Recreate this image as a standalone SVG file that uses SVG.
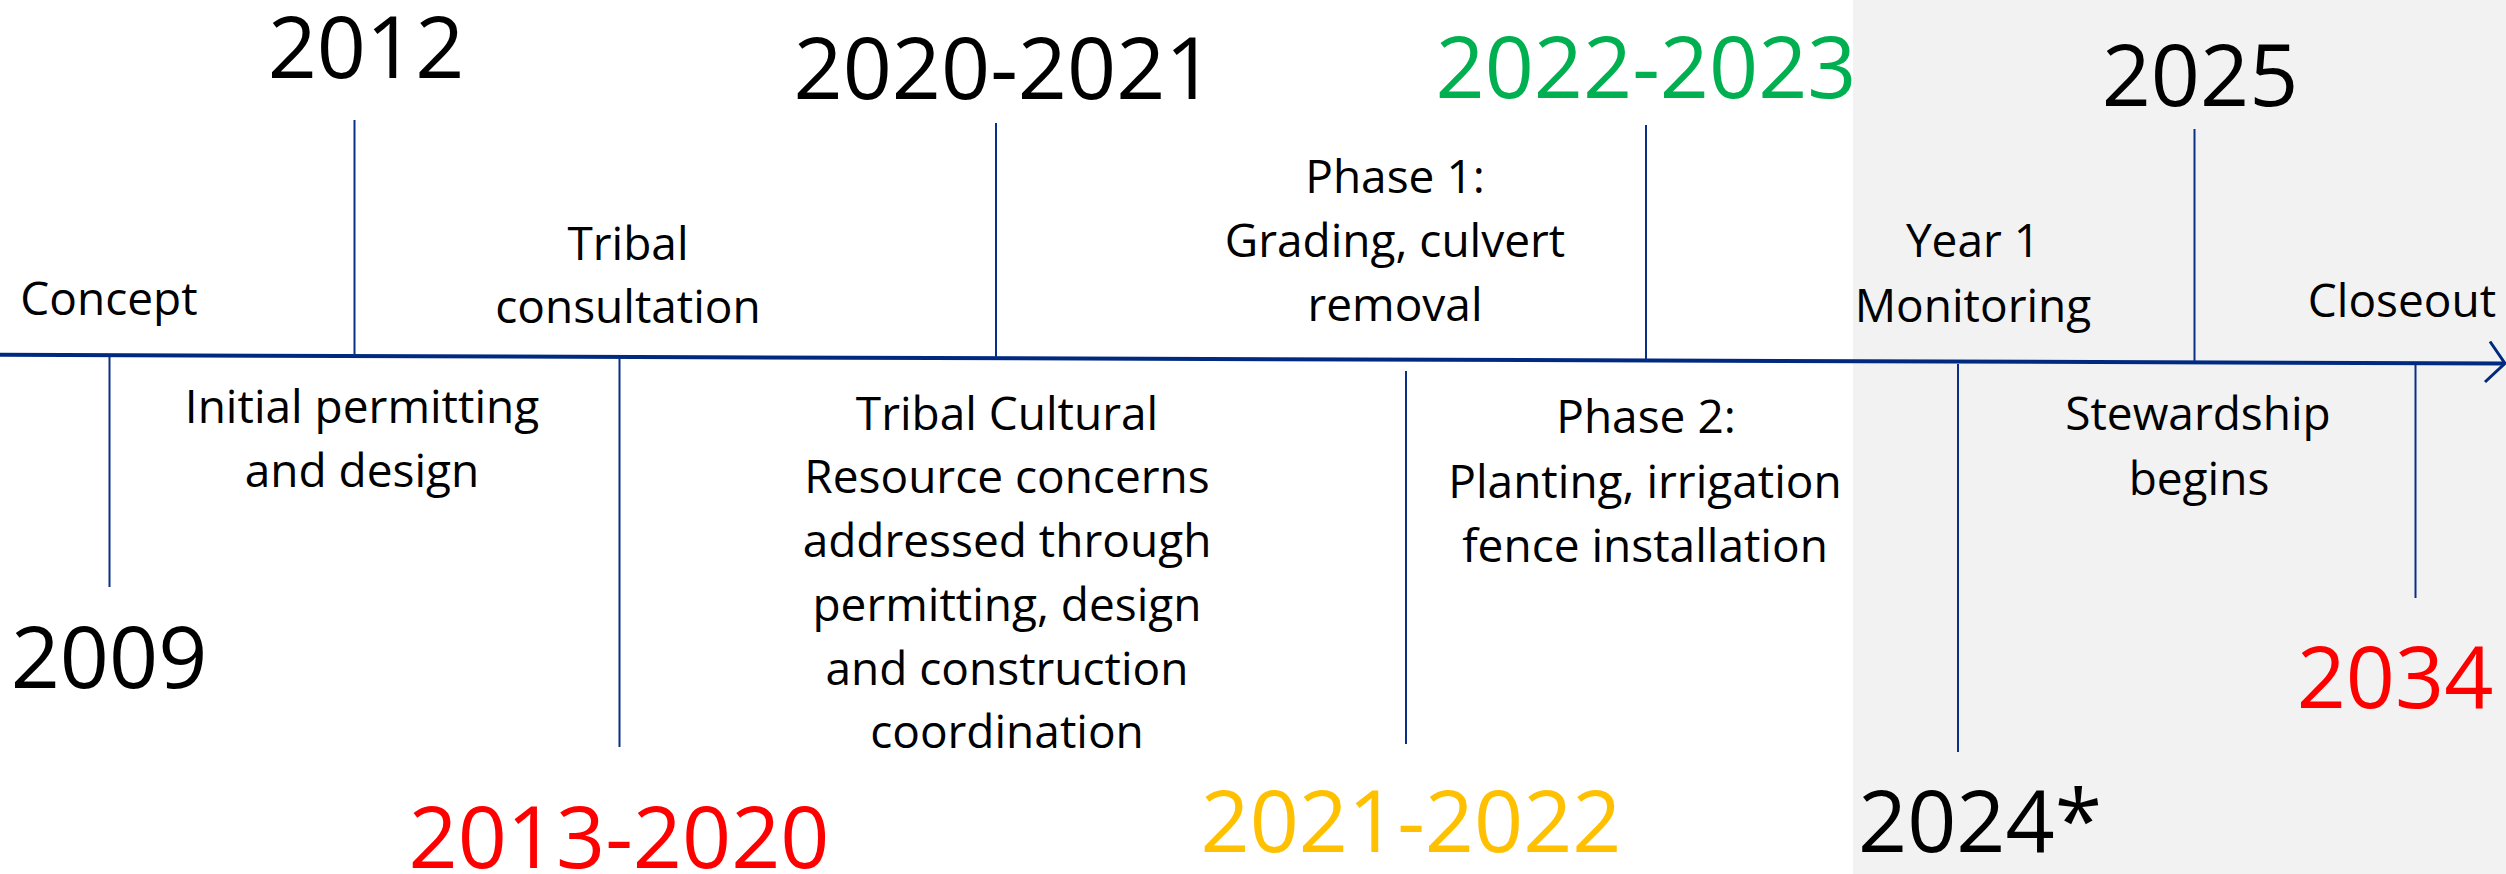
<svg xmlns="http://www.w3.org/2000/svg" width="2506" height="874" viewBox="0 0 2506 874">
<style>
text{font-family:"Open Sans","Liberation Sans",sans-serif;text-anchor:middle;fill:#000}
.lbl{font-size:46px}
.yr{font-size:86px}
.red{fill:#FF0000}
.green{fill:#00B050}
.yellow{fill:#FFC000}
.tick{stroke:#0A2F87;stroke-width:2;fill:none}
.axis{stroke:#002A80;stroke-width:4;fill:none}
.arrow{stroke:#002A80;stroke-width:3;fill:none}
</style>
<rect id="background-future" x="1853" y="0" width="653" height="874" fill="#F2F2F2"/>
<g id="connectors">
  <line class="axis" x1="0" y1="354.8" x2="2504" y2="363.4"/>
  <polyline class="arrow" points="2490,341.5 2505,363.4 2485,382"/>
  <line class="tick" x1="109.5" y1="357" x2="109.5" y2="587"/>
  <line class="tick" x1="354.5" y1="120" x2="354.5" y2="356"/>
  <line class="tick" x1="619.5" y1="358" x2="619.5" y2="747"/>
  <line class="tick" x1="996" y1="123" x2="996" y2="358"/>
  <line class="tick" x1="1406" y1="371" x2="1406" y2="744"/>
  <line class="tick" x1="1646" y1="125" x2="1646" y2="361"/>
  <line class="tick" x1="1958" y1="364" x2="1958" y2="752"/>
  <line class="tick" x1="2194.5" y1="129" x2="2194.5" y2="362"/>
  <line class="tick" x1="2415.5" y1="365" x2="2415.5" y2="598"/>
</g>
<g id="node-2009">
  <text class="lbl" x="109" y="315">Concept</text>
  <text class="yr" x="109" y="688">2009</text>
</g>
<g id="node-2012">
  <text class="yr" x="366" y="78">2012</text>
  <text class="lbl" x="362" y="423">Initial permitting</text>
  <text class="lbl" x="362" y="487">and design</text>
</g>
<g id="node-2013-2020">
  <text class="lbl" x="628" y="260">Tribal</text>
  <text class="lbl" x="628" y="323">consultation</text>
  <text class="yr red" x="619" y="868">2013-2020</text>
</g>
<g id="node-2020-2021">
  <text class="yr" x="1004" y="99">2020-2021</text>
  <text class="lbl" x="1007" y="430">Tribal Cultural</text>
  <text class="lbl" x="1007" y="493">Resource concerns</text>
  <text class="lbl" x="1007" y="557">addressed through</text>
  <text class="lbl" x="1007" y="621">permitting, design</text>
  <text class="lbl" x="1007" y="685">and construction</text>
  <text class="lbl" x="1007" y="748">coordination</text>
</g>
<g id="node-2021-2022">
  <text class="lbl" x="1395" y="193">Phase 1:</text>
  <text class="lbl" x="1395" y="257">Grading, culvert</text>
  <text class="lbl" x="1395" y="321">removal</text>
  <text class="yr yellow" x="1411" y="852">2021-2022</text>
</g>
<g id="node-2022-2023">
  <text class="yr green" x="1646" y="98">2022-2023</text>
  <text class="lbl" x="1646" y="433">Phase 2:</text>
  <text class="lbl" x="1645" y="498">Planting, irrigation</text>
  <text class="lbl" x="1645" y="562">fence installation</text>
</g>
<g id="node-2024">
  <text class="lbl" x="1973" y="257">Year 1</text>
  <text class="lbl" x="1973" y="322">Monitoring</text>
  <text class="yr" x="1980" y="852">2024*</text>
</g>
<g id="node-2025">
  <text class="yr" x="2200" y="106">2025</text>
  <text class="lbl" x="2198" y="430">Stewardship</text>
  <text class="lbl" x="2199" y="495">begins</text>
</g>
<g id="node-2034">
  <text class="lbl" x="2402" y="317">Closeout</text>
  <text class="yr red" x="2395" y="708">2034</text>
</g>
</svg>
